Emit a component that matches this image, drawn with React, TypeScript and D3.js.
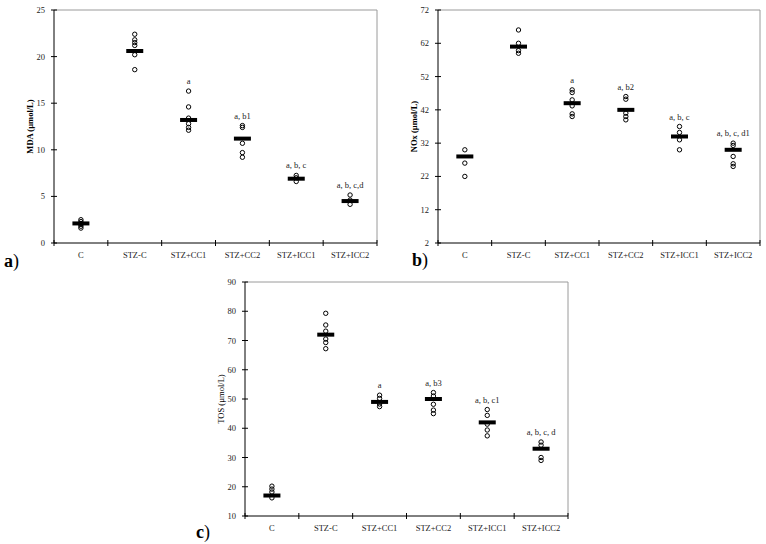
import React from "react";
import * as d3 from "d3";

const categories = ["C", "STZ-C", "STZ+CC1", "STZ+CC2", "STZ+ICC1", "STZ+ICC2"];

const mdaTicks = [0, 5, 10, 15, 20, 25];
const mdaMeans = [2.1, 20.6, 13.2, 11.2, 6.9, 4.5];
const mdaPoints = [
  [2.5, 2.3, 2.1, 2.0, 1.8, 1.6],
  [22.4, 21.8, 21.5, 21.2, 20.2, 18.6],
  [16.3, 14.6, 13.4, 12.8, 12.4, 12.1],
  [12.6, 12.4, 10.7, 9.7, 9.2],
  [7.25, 7.0, 6.6],
  [5.15, 4.6, 4.15],
];
const mdaLetters = ["", "", "a", "a, b1", "a, b, c", "a, b, c,d"];

const noxTicks = [2, 12, 22, 32, 42, 52, 62, 72];
const noxMeans = [28, 61, 44, 42, 34, 30];
const noxPoints = [
  [30, 26, 22],
  [66, 62, 59.8, 59],
  [48, 47.2, 45, 43.2, 40.8, 40],
  [46, 45.2, 41, 40, 39],
  [37, 35.2, 33, 30],
  [32, 31.3, 28, 25.8, 25],
];
const noxLetters = ["", "", "a", "a, b2", "a, b, c", "a, b, c, d1"];

const tosTicks = [10, 20, 30, 40, 50, 60, 70, 80, 90];
const tosMeans = [17, 72, 49, 50, 42, 33];
const tosPoints = [
  [20.2, 19.2, 18.2, 16.2],
  [79.3, 75.3, 73.2, 70.5, 69.3, 67.2],
  [51.3, 50.2, 48.3, 47.4],
  [52.2, 51, 48.2, 46.2, 45],
  [46.4, 44.4, 41.4, 39.4, 37.4],
  [35.3, 34.2, 30, 29],
];
const tosLetters = ["", "", "a", "a, b3", "a, b, c1", "a, b, c, d"];

const FONT = "'Liberation Serif', 'Times New Roman', serif";

type PanelProps = {
  left: number;
  top: number;
  right: number;
  bottom: number;
  ticks: number[];
  means: number[];
  points: number[][];
  letters: string[];
  title: string;
  titleBold: boolean;
  tag: string;
  tagX: number;
  tagY: number;
};

function Panel(p: PanelProps) {
  const y = d3
    .scaleLinear()
    .domain([p.ticks[0], p.ticks[p.ticks.length - 1]])
    .range([p.bottom, p.top]);
  const x = d3.scaleBand<string>().domain(categories).range([p.left, p.right]);
  const bw = x.bandwidth();
  const boundaries = d3.range(categories.length + 1).map((i) => p.left + i * bw);
  return (
    <g>
      <line x1={p.left} x2={p.right} y1={p.top} y2={p.top} stroke="#9a9a9a" strokeWidth={1} />
      <line x1={p.right} x2={p.right} y1={p.top} y2={p.bottom} stroke="#9a9a9a" strokeWidth={1} />
      <line x1={p.left} x2={p.left} y1={p.top} y2={p.bottom} stroke="#000" strokeWidth={1} />
      <line x1={p.left} x2={p.right} y1={p.bottom} y2={p.bottom} stroke="#000" strokeWidth={1} />
      {p.ticks.map((t) => (
        <g key={t}>
          <line x1={p.left - 3} x2={p.left + 3} y1={y(t)} y2={y(t)} stroke="#000" />
          <text x={p.left - 9} y={y(t) + 3} fontSize={8.5} textAnchor="end" fontFamily={FONT} fill="#222">
            {t}
          </text>
        </g>
      ))}
      {boundaries.map((bx, i) => (
        <line key={i} x1={bx} x2={bx} y1={p.bottom - 3} y2={p.bottom + 3} stroke="#000" />
      ))}
      {categories.map((c) => (
        <text
          key={c}
          x={(x(c) as number) + bw / 2}
          y={p.bottom + 15}
          fontSize={8.5}
          textAnchor="middle"
          fontFamily={FONT}
          fill="#222"
        >
          {c}
        </text>
      ))}
      {categories.map((c, i) => {
        const cx = (x(c) as number) + bw / 2;
        const top = Math.max(...p.points[i]);
        return (
          <g key={c}>
            {p.points[i].map((v, j) => (
              <circle key={j} cx={cx} cy={y(v)} r={2.2} fill="none" stroke="#000" strokeWidth={1} />
            ))}
            <rect x={cx - 8.5} y={y(p.means[i]) - 2} width={17} height={4} fill="#000" />
            {p.letters[i] && (
              <text x={cx} y={y(top) - 7} fontSize={8.5} textAnchor="middle" fontFamily={FONT} fill="#222">
                {p.letters[i]}
              </text>
            )}
          </g>
        );
      })}
      <text
        transform={`translate(${p.left - 21},${(p.top + p.bottom) / 2}) rotate(-90)`}
        fontSize={8.5}
        fontWeight={p.titleBold ? "bold" : "normal"}
        textAnchor="middle"
        fontFamily={FONT}
        fill="#000"
      >
        {p.title}
      </text>
      <text x={p.tagX} y={p.tagY} fontSize={18} fontFamily={FONT} fill="#000">
        <tspan fontWeight="bold">{p.tag}</tspan>
        <tspan>)</tspan>
      </text>
    </g>
  );
}

export default function App() {
  return (
    <svg
      width={766}
      height={544}
      style={{ position: "absolute", left: 0, top: 0, background: "#fff" }}
    >
      <rect width={766} height={544} fill="#fff" />
      <Panel
        left={54}
        top={10}
        right={377}
        bottom={243}
        ticks={mdaTicks}
        means={mdaMeans}
        points={mdaPoints}
        letters={mdaLetters}
        title="MDA (µmol/L)"
        titleBold={true}
        tag="a"
        tagX={4}
        tagY={267}
      />
      <Panel
        left={438}
        top={10}
        right={760}
        bottom={243}
        ticks={noxTicks}
        means={noxMeans}
        points={noxPoints}
        letters={noxLetters}
        title="NOx (µmol/L)"
        titleBold={true}
        tag="b"
        tagX={412}
        tagY={266}
      />
      <Panel
        left={245}
        top={282}
        right={568}
        bottom={516}
        ticks={tosTicks}
        means={tosMeans}
        points={tosPoints}
        letters={tosLetters}
        title="TOS (µmol/L)"
        titleBold={false}
        tag="c"
        tagX={196}
        tagY={538}
      />
    </svg>
  );
}
